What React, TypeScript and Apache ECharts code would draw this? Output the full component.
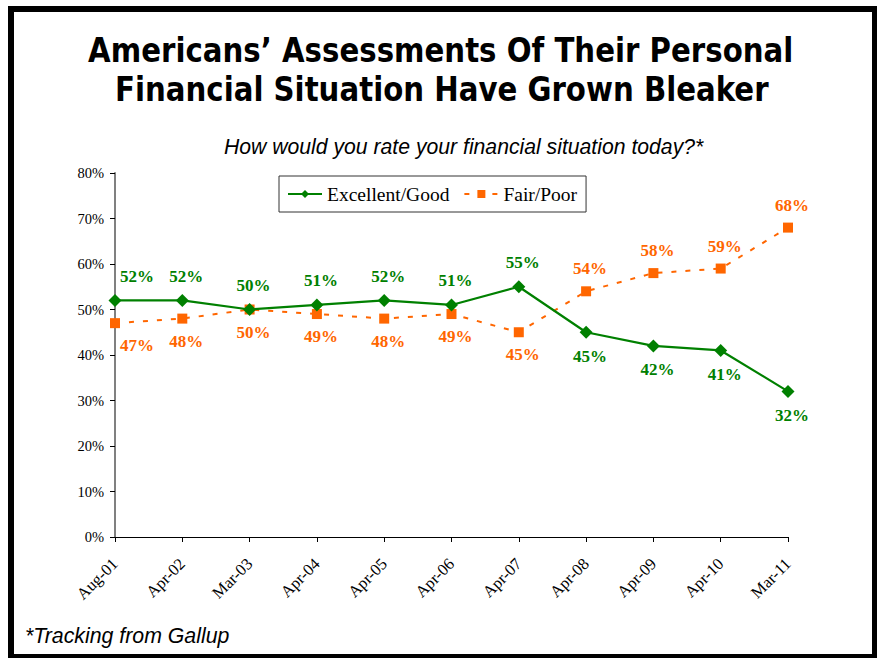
import React, { useEffect, useRef } from "react";
import * as echarts from "echarts";

const categories = ["Aug-01", "Apr-02", "Mar-03", "Apr-04", "Apr-05", "Apr-06", "Apr-07", "Apr-08", "Apr-09", "Apr-10", "Mar-11"];
const excellentGood = [52, 52, 50, 51, 52, 51, 55, 45, 42, 41, 32];
const fairPoor = [47, 48, 50, 49, 48, 49, 45, 54, 58, 59, 68];
const yTicks = [0, 10, 20, 30, 40, 50, 60, 70, 80];

const titleLines = [
  "Americans\u2019 Assessments Of Their Personal",
  "Financial Situation Have Grown Bleaker",
];
const subtitle = "How would you rate your financial situation today?*";
const footnote = "*Tracking from Gallup";

const GREEN = "#008000";
const ORANGE = "#FF6600";
const SERIF = "Liberation Serif, Times New Roman, serif";
const SANS = "Liberation Sans, Arial, sans-serif";

export default function App() {
  const ref = useRef<HTMLDivElement>(null);
  useEffect(() => {
    if (!ref.current) return;
    const chart = echarts.init(ref.current, null, { renderer: "svg" });
    const labelOffset = (i: number) => [i === 0 ? 22 : 4, 0];
    const greenData = excellentGood.map((v, i) => ({
      value: v,
      label: { position: v >= fairPoor[i] ? "top" : "bottom", offset: labelOffset(i) },
    }));
    const orangeData = fairPoor.map((v, i) => ({
      value: v,
      label: { position: v > excellentGood[i] ? "top" : "bottom", offset: labelOffset(i) },
    }));
    const labelStyle = {
      show: true,
      formatter: (p: any) => p.value + "%",
      fontFamily: SERIF,
      fontWeight: "bold",
      fontSize: 17,
      distance: 9,
    };
    const titleFont = {
      fontFamily: "DejaVu Sans Condensed, DejaVu Sans, sans-serif",
      fontWeight: "bold",
      fontSize: 33.5,
      fill: "#000",
      align: "center",
      verticalAlign: "middle",
    };
    chart.setOption({
      animation: false,
      backgroundColor: "#fff",
      graphic: [
        {
          type: "rect",
          shape: { x: 11, y: 9, width: 864, height: 648 },
          style: { fill: "none", stroke: "#000", lineWidth: 6 },
          silent: true,
        },
        {
          type: "text",
          x: 440.7,
          y: 50.5,
          scaleX: 0.97,
          style: { text: titleLines[0], ...titleFont },
        },
        {
          type: "text",
          x: 441.8,
          y: 89.5,
          scaleX: 0.97,
          style: { text: titleLines[1], ...titleFont },
        },
        {
          type: "text",
          x: 463.6,
          y: 146.5,
          style: {
            text: subtitle,
            fontFamily: SANS,
            fontStyle: "italic",
            fontSize: 21.2,
            fill: "#000",
            align: "center",
            verticalAlign: "middle",
          },
        },
        {
          type: "text",
          x: 25,
          y: 636,
          style: {
            text: footnote,
            fontFamily: SANS,
            fontStyle: "italic",
            fontSize: 21.3,
            fill: "#000",
            align: "left",
            verticalAlign: "middle",
          },
        },
      ],
      legend: {
        left: 279,
        top: 176,
        padding: [8, 9, 8, 8],
        borderColor: "#333",
        borderWidth: 1,
        itemGap: 14,
        itemWidth: 34,
        itemHeight: 10,
        textStyle: {
          fontFamily: SERIF,
          fontSize: 19.5,
          color: "#000",
        },
        data: ["Excellent/Good", "Fair/Poor"],
      },
      grid: { left: 115, right: 89, top: 173, bottom: 121 },
      xAxis: {
        type: "category",
        data: categories,
        boundaryGap: false,
        axisLine: { lineStyle: { color: "#000", width: 1 } },
        axisTick: { show: true, length: 5, lineStyle: { color: "#000" } },
        axisLabel: {
          rotate: 45,
          margin: 24,
          fontFamily: SERIF,
          fontSize: 16.5,
          color: "#000",
        },
        splitLine: { show: false },
      },
      yAxis: {
        type: "value",
        min: 0,
        max: 80,
        interval: 10,
        axisLine: { show: true, lineStyle: { color: "#808080", width: 2 } },
        axisTick: { show: true, length: 5, lineStyle: { color: "#000" } },
        axisLabel: {
          formatter: (v: number) => (yTicks.includes(v) ? v + "%" : ""),
          margin: 11,
          fontFamily: SERIF,
          fontSize: 14.5,
          color: "#000",
        },
        splitLine: { show: false },
      },
      series: [
        {
          name: "Excellent/Good",
          type: "line",
          data: greenData,
          symbol: "diamond",
          symbolSize: 13,
          itemStyle: { color: GREEN },
          lineStyle: { color: GREEN, width: 2.2 },
          label: { ...labelStyle, color: GREEN },
          z: 3,
        },
        {
          name: "Fair/Poor",
          type: "line",
          data: orangeData,
          symbol: "rect",
          symbolSize: 10,
          itemStyle: { color: ORANGE },
          lineStyle: { color: ORANGE, width: 2, type: [5, 9] },
          label: { ...labelStyle, color: ORANGE },
          z: 2,
        },
      ],
    });
    return () => chart.dispose();
  }, []);
  return (
    <div
      ref={ref}
      style={{ position: "fixed", left: 0, top: 0, width: 877, height: 658 }}
    />
  );
}
